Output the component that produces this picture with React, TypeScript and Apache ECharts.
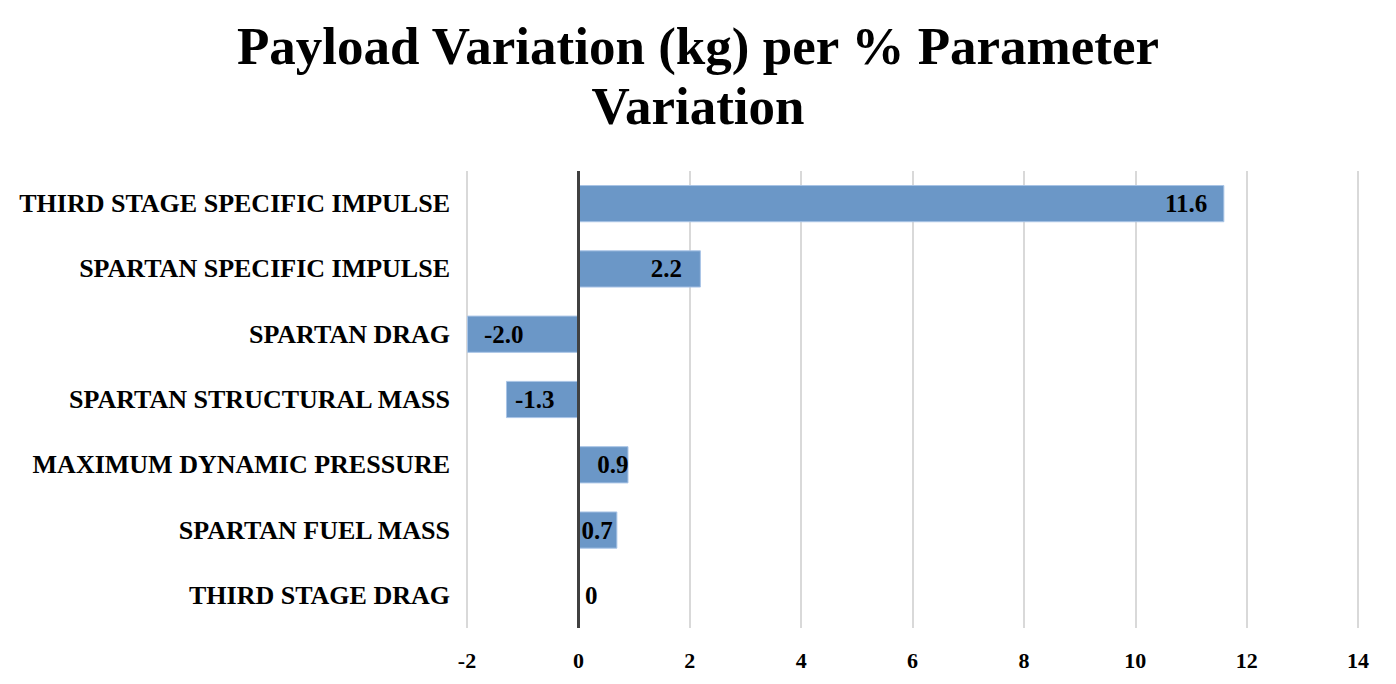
import React, { useEffect, useRef } from "react";
import * as echarts from "echarts";

const categories = [
  "THIRD STAGE SPECIFIC IMPULSE",
  "SPARTAN SPECIFIC IMPULSE",
  "SPARTAN DRAG",
  "SPARTAN STRUCTURAL MASS",
  "MAXIMUM DYNAMIC PRESSURE",
  "SPARTAN FUEL MASS",
  "THIRD STAGE DRAG",
];
const values = [11.6, 2.2, -2.0, -1.3, 0.9, 0.7, 0];
const xTicks = { min: -2, max: 14, interval: 2 };

const labelPlacement: { position: string; distance: number }[] = [
  { position: "insideRight", distance: 17 },
  { position: "insideRight", distance: 19 },
  { position: "insideLeft", distance: 17 },
  { position: "insideLeft", distance: 9 },
  { position: "insideRight", distance: 0 },
  { position: "insideLeft", distance: 3 },
  { position: "right", distance: 6 },
];

const FONT = "'Liberation Serif', 'Times New Roman', serif";

export default function App() {
  const ref = useRef<HTMLDivElement>(null);
  useEffect(() => {
    document.body.style.margin = "0";
    const chart = echarts.init(ref.current!, undefined, { renderer: "svg" });
    chart.setOption({
      animation: false,
      backgroundColor: "#ffffff",
      title: {
        text: "Payload Variation (kg) per % Parameter\nVariation",
        left: "center",
        top: 11,
        textStyle: {
          fontFamily: FONT,
          fontWeight: "bold",
          fontSize: 53,
          lineHeight: 60,
          color: "#000",
        },
      },
      grid: { left: 467, right: 38, top: 171, bottom: 56, containLabel: false },
      xAxis: {
        type: "value",
        min: xTicks.min,
        max: xTicks.max,
        interval: xTicks.interval,
        axisLine: { show: false },
        axisTick: { show: false },
        splitLine: { show: true, lineStyle: { color: "#d9d9d9", width: 2 } },
        axisLabel: {
          margin: 21,
          fontFamily: FONT,
          fontWeight: "bold",
          fontSize: 22,
          color: "#000",
        },
      },
      yAxis: {
        type: "category",
        data: categories,
        inverse: true,
        axisLine: { show: false },
        axisTick: { show: false },
        splitLine: { show: false },
        axisLabel: {
          margin: 17,
          fontFamily: FONT,
          fontWeight: "bold",
          fontSize: 26,
          color: "#000",
        },
      },
      series: [
        {
          type: "bar",
          barWidth: "57%",
          data: values.map((v, i) => ({
            value: v,
            label: {
              show: true,
              position: labelPlacement[i].position,
              distance: labelPlacement[i].distance,
              formatter: v === 0 ? "0" : v.toFixed(1),
            },
          })),
          itemStyle: {
            color: "#6b97c7",
            borderColor: "#a9c4e6",
            borderWidth: 1,
          },
          label: {
            show: true,
            fontFamily: FONT,
            fontWeight: "bold",
            fontSize: 25,
            color: "#000",
          },
          markLine: {
            silent: true,
            symbol: "none",
            label: { show: false },
            lineStyle: { color: "#404040", width: 3, type: "solid" },
            data: [{ xAxis: 0 }],
          },
        },
      ],
    });
    return () => chart.dispose();
  }, []);
  return <div ref={ref} style={{ width: 1396, height: 684 }} />;
}
